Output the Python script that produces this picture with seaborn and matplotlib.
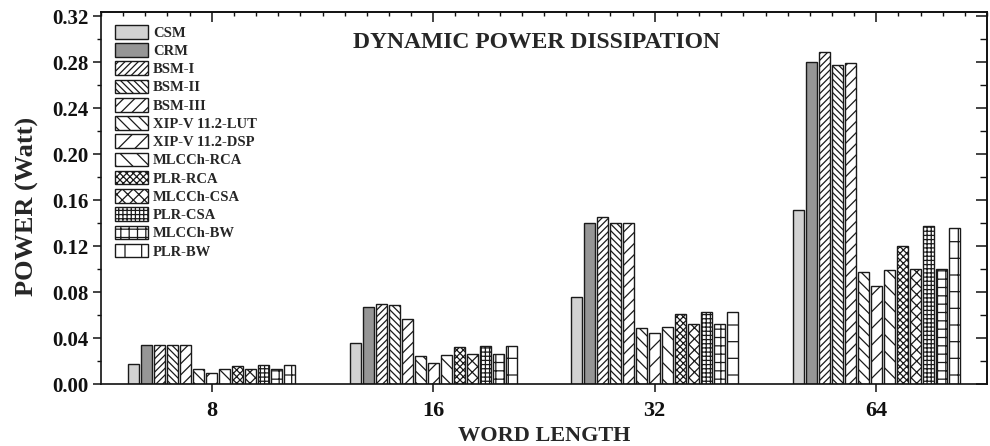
import matplotlib
matplotlib.use("Agg")
import matplotlib.pyplot as plt
from matplotlib.ticker import MultipleLocator, FormatStrFormatter
import seaborn as sns
import pandas as pd

# Word lengths on the x axis
word_lengths = ["8", "16", "32", "64"]

# Multiplier designs (legend order)
design_names = [
    "CSM", "CRM", "BSM-I", "BSM-II", "BSM-III",
    "XIP-V 11.2-LUT", "XIP-V 11.2-DSP", "MLCCh-RCA", "PLR-RCA",
    "MLCCh-CSA", "PLR-CSA", "MLCCh-BW", "PLR-BW",
]

# Dynamic power (W) per design, one value per word length
csm = [0.0174, 0.0357, 0.0759, 0.1513]
crm = [0.0339, 0.0667, 0.1403, 0.2797]
bsm_1 = [0.0339, 0.0696, 0.1455, 0.2884]
bsm_2 = [0.0339, 0.0687, 0.1397, 0.2771]
bsm_3 = [0.0339, 0.0562, 0.1397, 0.2788]
xip_lut = [0.0128, 0.0241, 0.0484, 0.0977]
xip_dsp = [0.0093, 0.0180, 0.0441, 0.0855]
mlcch_rca = [0.0128, 0.0250, 0.0499, 0.0988]
plr_rca = [0.0157, 0.0319, 0.0609, 0.1203]
mlcch_csa = [0.0133, 0.0261, 0.0522, 0.1000]
plr_csa = [0.0163, 0.0330, 0.0629, 0.1374]
mlcch_bw = [0.0128, 0.0260, 0.0520, 0.1000]
plr_bw = [0.0163, 0.0330, 0.0629, 0.1354]

series = [csm, crm, bsm_1, bsm_2, bsm_3, xip_lut, xip_dsp,
          mlcch_rca, plr_rca, mlcch_csa, plr_csa, mlcch_bw, plr_bw]

rows = []
for name, vals in zip(design_names, series):
    for wl, v in zip(word_lengths, vals):
        rows.append({"Word length": wl, "Power": v, "Design": name})
df = pd.DataFrame(rows)

fills = ["#d2d2d2", "#969696"] + ["white"] * 11
hatches = ["", "", "/////", "\\\\\\\\\\", "///", "\\\\\\", "//", "\\\\",
           "xxxxx", "xxx", "++++", "++", "+"]

sns.set_style("ticks")
plt.rcParams.update({
    "font.family": ["Liberation Serif", "DejaVu Serif"],
    "font.weight": "bold",
    "axes.labelweight": "bold",
    "axes.linewidth": 1.2,
    "axes.edgecolor": "#111111",
    "hatch.linewidth": 0.9,
    "xtick.color": "#111111",
    "ytick.color": "#111111",
})

fig = plt.figure(figsize=(9.9, 4.46), dpi=100)
ax = fig.add_axes([101 / 990, 62 / 446, 886 / 990, 372 / 446])

sns.barplot(
    data=df, x="Word length", y="Power", hue="Design",
    order=word_lengths, hue_order=design_names,
    palette=dict(zip(design_names, fills)), saturation=1,
    width=0.763, gap=0.18, errorbar=None,
    edgecolor="#1a1a1a", linewidth=1.0, legend=False, ax=ax,
)
for cont, h in zip(ax.containers, hatches):
    for p in cont.patches:
        p.set_hatch(h)

ax.set_xlim(-0.5, 3.5)
ax.set_ylim(0, 0.3235)
ax.set_yticks([i * 0.04 for i in range(9)])
ax.yaxis.set_major_formatter(FormatStrFormatter("%.2f"))
ax.yaxis.set_minor_locator(MultipleLocator(0.02))

ax.tick_params(axis="y", which="major", direction="out", length=6, width=1.1,
               labelsize=15, pad=3)
ax.tick_params(axis="y", which="minor", direction="out", length=3, width=1.0)
ax.tick_params(axis="x", which="major", direction="out", length=6, width=1.1,
               labelsize=16, pad=6)

# Inward ticks on the right and top frame edges
sec_r = ax.secondary_yaxis("right")
sec_r.set_yticks([i * 0.04 for i in range(9)])
sec_r.yaxis.set_minor_locator(MultipleLocator(0.02))
sec_r.tick_params(which="both", direction="in", labelright=False)
sec_r.tick_params(which="major", length=8, width=1.1)
sec_r.tick_params(which="minor", length=5, width=1.0)

sec_t = ax.secondary_xaxis("top")
sec_t.set_xticks([0, 1, 2, 3])
sec_t.xaxis.set_minor_locator(MultipleLocator(0.1))
sec_t.tick_params(which="both", direction="in", labeltop=False)
sec_t.tick_params(which="major", length=7, width=1.1)
sec_t.tick_params(which="minor", length=3, width=1.0)

ax.set_xlabel("WORD LENGTH", fontsize=16, fontweight="bold")
ax.set_ylabel("POWER (Watt)", fontsize=19, fontweight="bold")
ax.xaxis.set_label_coords(0.5, -0.113)
ax.yaxis.set_label_coords(-0.070, 0.478)

ax.text(0.491, 0.918, "DYNAMIC POWER DISSIPATION", transform=ax.transAxes,
        ha="center", va="center", fontsize=17, fontweight="bold")

ax.legend(ax.containers, design_names, loc="upper left",
          bbox_to_anchor=(0.0158, 0.965), frameon=False,
          borderaxespad=0, borderpad=0, handlelength=2.25, handleheight=1.05,
          handletextpad=0.35, labelspacing=0.24,
          prop={"family": "Liberation Serif", "weight": "bold", "size": 10.5})

fig.savefig("out.png", dpi=100)
